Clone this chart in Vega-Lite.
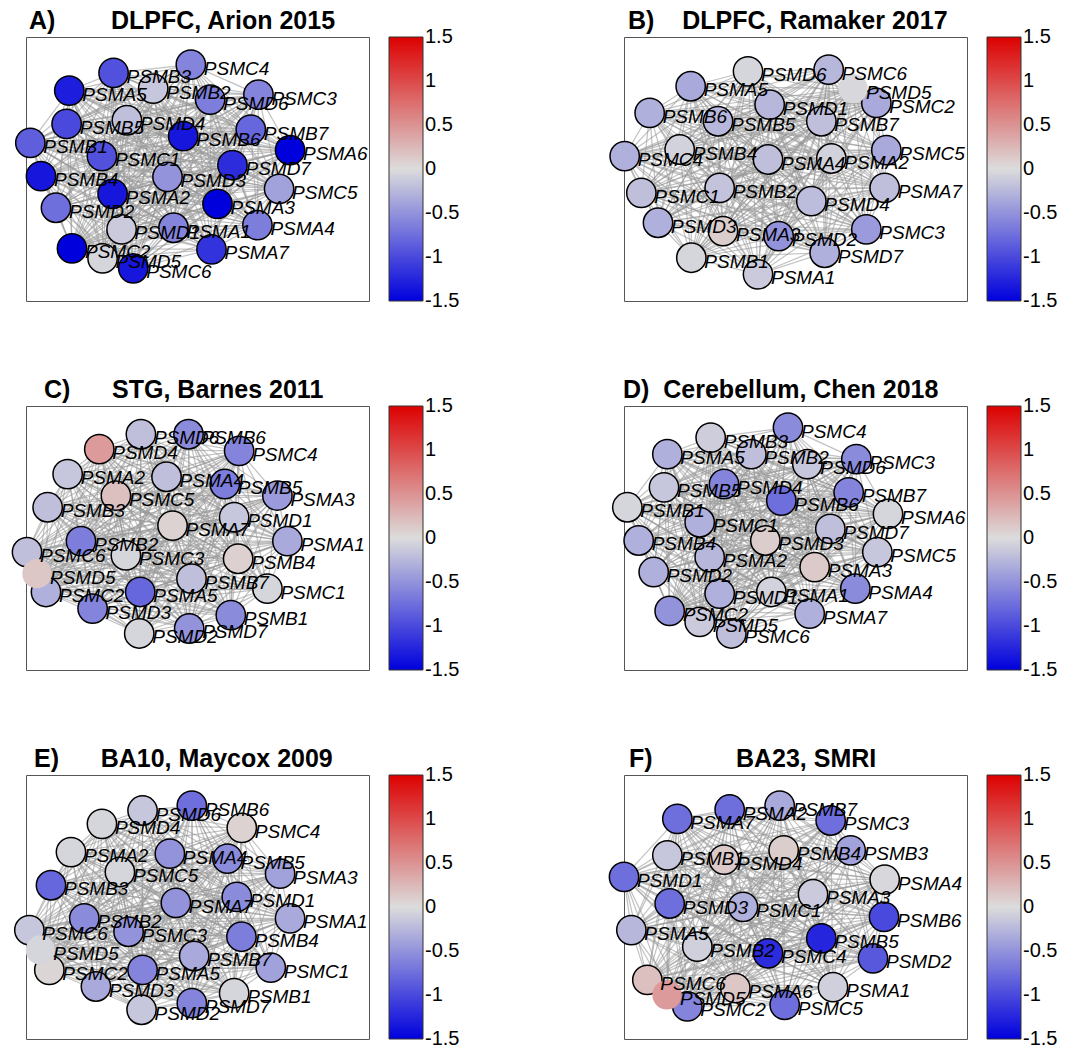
{
"$schema": "https://vega.github.io/schema/vega-lite/v6.json",
"background": "white",
"padding": {"left": 8, "top": 8, "right": 5, "bottom": 5},
"config": {"view": {"stroke": "#555555", "strokeWidth": 1}, "font": "Liberation Sans",
  "legend": {"offset": 20, "padding": 0, "labelFontSize": 20, "labelOffset": 12, "labelColor": "black", "labelFont": "Liberation Sans", "labelOverlap": false, "gradientStrokeColor": "#333333", "gradientStrokeWidth": 1}},
"datasets": {"nodes": [
{"panel":"A","name":"PSMB3","x":338,"y":215,"v":-0.95},
{"panel":"A","name":"PSMC4","x":570,"y":190,"v":-0.6},
{"panel":"A","name":"PSMA5","x":205,"y":268,"v":-1.3},
{"panel":"A","name":"PSMB2","x":457,"y":262,"v":-0.15},
{"panel":"A","name":"PSMD6","x":628,"y":295,"v":-0.65},
{"panel":"A","name":"PSMC3","x":773,"y":280,"v":-0.6},
{"panel":"A","name":"PSMB5","x":197,"y":368,"v":-1.0},
{"panel":"A","name":"PSMD4","x":378,"y":357,"v":-0.2},
{"panel":"A","name":"PSMB6","x":547,"y":405,"v":-1.35},
{"panel":"A","name":"PSMB7","x":750,"y":385,"v":-0.8},
{"panel":"A","name":"PSMB1","x":88,"y":425,"v":-0.85},
{"panel":"A","name":"PSMA6","x":868,"y":447,"v":-1.5},
{"panel":"A","name":"PSMC1","x":303,"y":465,"v":-0.95},
{"panel":"A","name":"PSMD7","x":695,"y":492,"v":-1.2},
{"panel":"A","name":"PSMB4","x":120,"y":525,"v":-1.35},
{"panel":"A","name":"PSMD3","x":500,"y":527,"v":-0.5},
{"panel":"A","name":"PSMC5","x":835,"y":563,"v":-0.4},
{"panel":"A","name":"PSMA2","x":335,"y":578,"v":-1.35},
{"panel":"A","name":"PSMA3","x":650,"y":608,"v":-1.5},
{"panel":"A","name":"PSMD2","x":165,"y":620,"v":-0.75},
{"panel":"A","name":"PSMA4","x":770,"y":672,"v":-0.65},
{"panel":"A","name":"PSMD1","x":362,"y":685,"v":-0.12},
{"panel":"A","name":"PSMA1","x":518,"y":680,"v":-0.6},
{"panel":"A","name":"PSMC2","x":213,"y":742,"v":-1.5},
{"panel":"A","name":"PSMA7","x":632,"y":745,"v":-1.15},
{"panel":"A","name":"PSMD5","x":305,"y":772,"v":-0.05},
{"panel":"A","name":"PSMC6","x":397,"y":802,"v":-1.35},
{"panel":"B","name":"PSMD6","x":440,"y":210,"v":-0.05},
{"panel":"B","name":"PSMC6","x":682,"y":205,"v":-0.25},
{"panel":"B","name":"PSMA5","x":268,"y":255,"v":-0.35},
{"panel":"B","name":"PSMC2","x":825,"y":305,"v":-0.35},
{"panel":"B","name":"PSMD5","x":755,"y":262,"v":-0.03},
{"panel":"B","name":"PSMD1","x":505,"y":310,"v":-0.25},
{"panel":"B","name":"PSMB6","x":145,"y":335,"v":-0.3},
{"panel":"B","name":"PSMB5","x":350,"y":360,"v":-0.25},
{"panel":"B","name":"PSMB7","x":660,"y":360,"v":-0.2},
{"panel":"B","name":"PSMC4","x":70,"y":465,"v":-0.3},
{"panel":"B","name":"PSMB4","x":235,"y":445,"v":-0.07},
{"panel":"B","name":"PSMA4","x":500,"y":475,"v":-0.2},
{"panel":"B","name":"PSMA2","x":690,"y":472,"v":-0.07},
{"panel":"B","name":"PSMC5","x":855,"y":447,"v":-0.35},
{"panel":"B","name":"PSMC1","x":120,"y":575,"v":-0.2},
{"panel":"B","name":"PSMB2","x":355,"y":560,"v":-0.17},
{"panel":"B","name":"PSMA7","x":850,"y":560,"v":-0.2},
{"panel":"B","name":"PSMD4","x":630,"y":600,"v":-0.22},
{"panel":"B","name":"PSMD3","x":170,"y":665,"v":-0.3},
{"panel":"B","name":"PSMA3","x":365,"y":690,"v":0.1},
{"panel":"B","name":"PSMD2","x":532,"y":705,"v":-0.5},
{"panel":"B","name":"PSMC3","x":795,"y":685,"v":-0.45},
{"panel":"B","name":"PSMD7","x":670,"y":755,"v":-0.3},
{"panel":"B","name":"PSMB1","x":270,"y":770,"v":-0.05},
{"panel":"B","name":"PSMA1","x":470,"y":820,"v":-0.12},
{"panel":"C","name":"PSMD6","x":420,"y":190,"v":-0.2},
{"panel":"C","name":"PSMB6","x":563,"y":190,"v":-0.55},
{"panel":"C","name":"PSMD4","x":295,"y":235,"v":0.45},
{"panel":"C","name":"PSMC4","x":715,"y":240,"v":-0.6},
{"panel":"C","name":"PSMA2","x":200,"y":310,"v":-0.15},
{"panel":"C","name":"PSMA4","x":497,"y":318,"v":-0.2},
{"panel":"C","name":"PSMB5","x":672,"y":340,"v":-0.65},
{"panel":"C","name":"PSMC5","x":345,"y":375,"v":0.2},
{"panel":"C","name":"PSMA3","x":830,"y":375,"v":-0.45},
{"panel":"C","name":"PSMB3","x":140,"y":410,"v":-0.2},
{"panel":"C","name":"PSMA7","x":515,"y":465,"v":0.07},
{"panel":"C","name":"PSMD1","x":700,"y":440,"v":-0.15},
{"panel":"C","name":"PSMA1","x":860,"y":512,"v":-0.35},
{"panel":"C","name":"PSMB2","x":240,"y":512,"v":-0.65},
{"panel":"C","name":"PSMC6","x":78,"y":545,"v":-0.2},
{"panel":"C","name":"PSMC3","x":375,"y":555,"v":-0.05},
{"panel":"C","name":"PSMB4","x":712,"y":565,"v":0.08},
{"panel":"C","name":"PSMB7","x":572,"y":625,"v":-0.2},
{"panel":"C","name":"PSMC1","x":800,"y":655,"v":-0.05},
{"panel":"C","name":"PSMC2","x":135,"y":665,"v":-0.3},
{"panel":"C","name":"PSMA5","x":418,"y":665,"v":-0.8},
{"panel":"C","name":"PSMD3","x":275,"y":715,"v":-0.6},
{"panel":"C","name":"PSMB1","x":690,"y":735,"v":-0.55},
{"panel":"C","name":"PSMD2","x":415,"y":790,"v":-0.05},
{"panel":"C","name":"PSMD7","x":565,"y":775,"v":-0.5},
{"panel":"C","name":"PSMD5","x":108,"y":610,"v":0.15},
{"panel":"D","name":"PSMB3","x":328,"y":200,"v":-0.1},
{"panel":"D","name":"PSMC4","x":560,"y":170,"v":-0.55},
{"panel":"D","name":"PSMA5","x":198,"y":250,"v":-0.3},
{"panel":"D","name":"PSMB2","x":450,"y":250,"v":-0.2},
{"panel":"D","name":"PSMD6","x":618,"y":280,"v":-0.15},
{"panel":"D","name":"PSMC3","x":765,"y":265,"v":-0.55},
{"panel":"D","name":"PSMB5","x":188,"y":350,"v":-0.15},
{"panel":"D","name":"PSMD4","x":368,"y":340,"v":-0.6},
{"panel":"D","name":"PSMB6","x":540,"y":390,"v":-0.75},
{"panel":"D","name":"PSMB7","x":742,"y":365,"v":-0.6},
{"panel":"D","name":"PSMB1","x":78,"y":410,"v":-0.05},
{"panel":"D","name":"PSMA6","x":860,"y":430,"v":-0.05},
{"panel":"D","name":"PSMC1","x":295,"y":455,"v":-0.3},
{"panel":"D","name":"PSMD7","x":687,"y":475,"v":-0.2},
{"panel":"D","name":"PSMB4","x":112,"y":510,"v":-0.3},
{"panel":"D","name":"PSMD3","x":492,"y":510,"v":0.1},
{"panel":"D","name":"PSMC5","x":828,"y":545,"v":-0.15},
{"panel":"D","name":"PSMA2","x":325,"y":560,"v":-0.25},
{"panel":"D","name":"PSMA3","x":640,"y":590,"v":0.12},
{"panel":"D","name":"PSMD2","x":157,"y":605,"v":-0.3},
{"panel":"D","name":"PSMA4","x":762,"y":655,"v":-0.55},
{"panel":"D","name":"PSMD1","x":355,"y":670,"v":-0.3},
{"panel":"D","name":"PSMA1","x":510,"y":665,"v":-0.07},
{"panel":"D","name":"PSMC2","x":205,"y":722,"v":-0.5},
{"panel":"D","name":"PSMA7","x":625,"y":730,"v":-0.3},
{"panel":"D","name":"PSMD5","x":295,"y":755,"v":-0.12},
{"panel":"D","name":"PSMC6","x":390,"y":790,"v":-0.2},
{"panel":"E","name":"PSMD6","x":425,"y":210,"v":-0.15},
{"panel":"E","name":"PSMB6","x":573,"y":195,"v":-0.75},
{"panel":"E","name":"PSMD4","x":303,"y":250,"v":-0.05},
{"panel":"E","name":"PSMC4","x":723,"y":262,"v":0.07},
{"panel":"E","name":"PSMA2","x":210,"y":335,"v":-0.05},
{"panel":"E","name":"PSMA4","x":507,"y":340,"v":-0.5},
{"panel":"E","name":"PSMB5","x":680,"y":355,"v":-0.55},
{"panel":"E","name":"PSMC5","x":357,"y":395,"v":-0.05},
{"panel":"E","name":"PSMA3","x":838,"y":400,"v":-0.4},
{"panel":"E","name":"PSMB3","x":150,"y":435,"v":-0.8},
{"panel":"E","name":"PSMA7","x":525,"y":488,"v":-0.5},
{"panel":"E","name":"PSMD1","x":708,"y":470,"v":-0.55},
{"panel":"E","name":"PSMA1","x":868,"y":535,"v":-0.35},
{"panel":"E","name":"PSMB2","x":250,"y":535,"v":-0.55},
{"panel":"E","name":"PSMC6","x":85,"y":570,"v":-0.15},
{"panel":"E","name":"PSMC3","x":383,"y":575,"v":-0.5},
{"panel":"E","name":"PSMB4","x":722,"y":590,"v":-0.65},
{"panel":"E","name":"PSMB7","x":580,"y":648,"v":-0.35},
{"panel":"E","name":"PSMC1","x":810,"y":683,"v":-0.4},
{"panel":"E","name":"PSMC2","x":145,"y":690,"v":0.05},
{"panel":"E","name":"PSMA5","x":425,"y":690,"v":-0.6},
{"panel":"E","name":"PSMD3","x":285,"y":740,"v":-0.35},
{"panel":"E","name":"PSMB1","x":700,"y":760,"v":-0.05},
{"panel":"E","name":"PSMD2","x":422,"y":810,"v":-0.15},
{"panel":"E","name":"PSMD7","x":573,"y":790,"v":-0.6},
{"panel":"E","name":"PSMD5","x":118,"y":630,"v":-0.05},
{"panel":"F","name":"PSMA7","x":228,"y":235,"v":-0.75},
{"panel":"F","name":"PSMA2","x":385,"y":207,"v":-0.75},
{"panel":"F","name":"PSMB7","x":535,"y":195,"v":-0.35},
{"panel":"F","name":"PSMC3","x":688,"y":240,"v":-0.75},
{"panel":"F","name":"PSMB1","x":198,"y":345,"v":-0.15},
{"panel":"F","name":"PSMD4","x":368,"y":358,"v":0.12},
{"panel":"F","name":"PSMB4","x":547,"y":330,"v":0.1},
{"panel":"F","name":"PSMB3","x":748,"y":330,"v":-0.4},
{"panel":"F","name":"PSMD1","x":68,"y":410,"v":-0.75},
{"panel":"F","name":"PSMA4","x":850,"y":418,"v":-0.03},
{"panel":"F","name":"PSMA3","x":635,"y":462,"v":-0.12},
{"panel":"F","name":"PSMD3","x":205,"y":490,"v":-0.75},
{"panel":"F","name":"PSMC1","x":425,"y":500,"v":-0.3},
{"panel":"F","name":"PSMB6","x":848,"y":530,"v":-1.0},
{"panel":"F","name":"PSMA5","x":90,"y":570,"v":-0.25},
{"panel":"F","name":"PSMB5","x":660,"y":595,"v":-1.25},
{"panel":"F","name":"PSMB2","x":288,"y":620,"v":-0.08},
{"panel":"F","name":"PSMC4","x":500,"y":640,"v":-1.2},
{"panel":"F","name":"PSMD2","x":815,"y":655,"v":-0.9},
{"panel":"F","name":"PSMC6","x":138,"y":720,"v":0.2},
{"panel":"F","name":"PSMA6","x":402,"y":745,"v":0.15},
{"panel":"F","name":"PSMA1","x":695,"y":742,"v":-0.08},
{"panel":"F","name":"PSMC2","x":258,"y":800,"v":-0.6},
{"panel":"F","name":"PSMC5","x":550,"y":795,"v":-0.75},
{"panel":"F","name":"PSMD5","x":197,"y":765,"v":0.45}
]},
"columns": 2,
"spacing": {"row": 105, "column": 255},
"bounds": "flush",
"resolve": {"scale": {"fill": "independent", "x": "independent", "y": "independent"}, "legend": {"fill": "independent"}},
"concat": [
{"width": 343, "height": 264, "data": {"name": "nodes"}, "transform": [{"filter": "datum.panel === 'A'"}],
 "title": {"text": "A)\u00a0\u00a0\u00a0\u00a0\u00a0\u00a0\u00a0\u00a0DLPFC, Arion 2015", "anchor": "start", "frame": "group", "dx": 3, "offset": -17, "baseline": "alphabetic", "fontSize": 25, "fontWeight": "bold", "font": "Liberation Sans", "color": "black"},
 "encoding": {"x": {"field": "x", "type": "quantitative", "scale": {"domain": [75, 1105], "nice": false, "zero": false}, "axis": null},
              "y": {"field": "y", "type": "quantitative", "scale": {"domain": [107, 900], "nice": false, "zero": false, "reverse": true}, "axis": null}},
 "layer": [
  {"transform": [{"joinaggregate": [{"op": "values", "field": "name", "as": "peers"}]}, {"flatten": ["peers"], "as": ["peer"]}, {"filter": "datum.name < datum.peer.name"}],
   "mark": {"type": "rule", "color": "#999999", "strokeWidth": 1.2, "opacity": 0.6},
   "encoding": {"x2": {"field": "peer.x"}, "y2": {"field": "peer.y"}}},
  {"mark": {"type": "point", "shape": "circle", "filled": true, "size": 860, "stroke": "black", "strokeWidth": 1.5, "opacity": 1},
   "encoding": {"fill": {"field": "v", "type": "quantitative", "scale": {"domain": [-1.5002, 0, 1.5002], "range": ["#0000dd", "#dcdcdc", "#dd0000"], "interpolate": "rgb"},
     "legend": {"title": null, "orient": "right", "direction": "vertical", "gradientLength": 264, "gradientThickness": 34, "values": [-1.5, -1, -0.5, 0, 0.5, 1, 1.5], "labelExpr": "'' + datum.value"}}}},
  {"mark": {"type": "text", "align": "left", "baseline": "alphabetic", "dx": 13, "dy": 10, "fontSize": 19, "fontStyle": "italic", "font": "Liberation Sans", "color": "black"},
   "encoding": {"text": {"field": "name"}}}
 ]},
{"width": 343, "height": 264, "data": {"name": "nodes"}, "transform": [{"filter": "datum.panel === 'B'"}],
 "title": {"text": "B)\u00a0\u00a0\u00a0\u00a0DLPFC, Ramaker 2017", "anchor": "start", "frame": "group", "dx": 4, "offset": -17, "baseline": "alphabetic", "fontSize": 25, "fontWeight": "bold", "font": "Liberation Sans", "color": "black"},
 "encoding": {"x": {"field": "x", "type": "quantitative", "scale": {"domain": [68, 1097], "nice": false, "zero": false}, "axis": null},
              "y": {"field": "y", "type": "quantitative", "scale": {"domain": [107, 900], "nice": false, "zero": false, "reverse": true}, "axis": null}},
 "layer": [
  {"transform": [{"joinaggregate": [{"op": "values", "field": "name", "as": "peers"}]}, {"flatten": ["peers"], "as": ["peer"]}, {"filter": "datum.name < datum.peer.name"}],
   "mark": {"type": "rule", "color": "#999999", "strokeWidth": 1.2, "opacity": 0.6},
   "encoding": {"x2": {"field": "peer.x"}, "y2": {"field": "peer.y"}}},
  {"mark": {"type": "point", "shape": "circle", "filled": true, "size": 860, "stroke": "black", "strokeWidth": 1.5, "opacity": 1},
   "encoding": {"fill": {"field": "v", "type": "quantitative", "scale": {"domain": [-1.5002, 0, 1.5002], "range": ["#0000dd", "#dcdcdc", "#dd0000"], "interpolate": "rgb"},
     "legend": {"title": null, "orient": "right", "direction": "vertical", "gradientLength": 264, "gradientThickness": 34, "values": [-1.5, -1, -0.5, 0, 0.5, 1, 1.5], "labelExpr": "'' + datum.value"}},
     "strokeOpacity": {"condition": {"test": "datum.name === 'PSMD5'", "value": 0}, "value": 1}}},
  {"mark": {"type": "text", "align": "left", "baseline": "alphabetic", "dx": 13, "dy": 10, "fontSize": 19, "fontStyle": "italic", "font": "Liberation Sans", "color": "black"},
   "encoding": {"text": {"field": "name"}}}
 ]},
{"width": 343, "height": 264, "data": {"name": "nodes"}, "transform": [{"filter": "datum.panel === 'C'"}],
 "title": {"text": "C)\u00a0\u00a0\u00a0\u00a0\u00a0\u00a0STG, Barnes 2011", "anchor": "start", "frame": "group", "dx": 18, "offset": -17, "baseline": "alphabetic", "fontSize": 25, "fontWeight": "bold", "font": "Liberation Sans", "color": "black"},
 "encoding": {"x": {"field": "x", "type": "quantitative", "scale": {"domain": [75, 1105], "nice": false, "zero": false}, "axis": null},
              "y": {"field": "y", "type": "quantitative", "scale": {"domain": [105, 900], "nice": false, "zero": false, "reverse": true}, "axis": null}},
 "layer": [
  {"transform": [{"joinaggregate": [{"op": "values", "field": "name", "as": "peers"}]}, {"flatten": ["peers"], "as": ["peer"]}, {"filter": "datum.name < datum.peer.name"}],
   "mark": {"type": "rule", "color": "#999999", "strokeWidth": 1.2, "opacity": 0.6},
   "encoding": {"x2": {"field": "peer.x"}, "y2": {"field": "peer.y"}}},
  {"mark": {"type": "point", "shape": "circle", "filled": true, "size": 860, "stroke": "black", "strokeWidth": 1.5, "opacity": 1},
   "encoding": {"fill": {"field": "v", "type": "quantitative", "scale": {"domain": [-1.5002, 0, 1.5002], "range": ["#0000dd", "#dcdcdc", "#dd0000"], "interpolate": "rgb"},
     "legend": {"title": null, "orient": "right", "direction": "vertical", "gradientLength": 264, "gradientThickness": 34, "values": [-1.5, -1, -0.5, 0, 0.5, 1, 1.5], "labelExpr": "'' + datum.value"}},
     "strokeOpacity": {"condition": {"test": "datum.name === 'PSMD5'", "value": 0}, "value": 1}}},
  {"mark": {"type": "text", "align": "left", "baseline": "alphabetic", "dx": 13, "dy": 10, "fontSize": 19, "fontStyle": "italic", "font": "Liberation Sans", "color": "black"},
   "encoding": {"text": {"field": "name"}}}
 ]},
{"width": 343, "height": 264, "data": {"name": "nodes"}, "transform": [{"filter": "datum.panel === 'D'"}],
 "title": {"text": "D)\u00a0\u00a0Cerebellum, Chen 2018", "anchor": "start", "frame": "group", "dx": -1, "offset": -17, "baseline": "alphabetic", "fontSize": 25, "fontWeight": "bold", "font": "Liberation Sans", "color": "black"},
 "encoding": {"x": {"field": "x", "type": "quantitative", "scale": {"domain": [68, 1097], "nice": false, "zero": false}, "axis": null},
              "y": {"field": "y", "type": "quantitative", "scale": {"domain": [105, 900], "nice": false, "zero": false, "reverse": true}, "axis": null}},
 "layer": [
  {"transform": [{"joinaggregate": [{"op": "values", "field": "name", "as": "peers"}]}, {"flatten": ["peers"], "as": ["peer"]}, {"filter": "datum.name < datum.peer.name"}],
   "mark": {"type": "rule", "color": "#999999", "strokeWidth": 1.2, "opacity": 0.6},
   "encoding": {"x2": {"field": "peer.x"}, "y2": {"field": "peer.y"}}},
  {"mark": {"type": "point", "shape": "circle", "filled": true, "size": 860, "stroke": "black", "strokeWidth": 1.5, "opacity": 1},
   "encoding": {"fill": {"field": "v", "type": "quantitative", "scale": {"domain": [-1.5002, 0, 1.5002], "range": ["#0000dd", "#dcdcdc", "#dd0000"], "interpolate": "rgb"},
     "legend": {"title": null, "orient": "right", "direction": "vertical", "gradientLength": 264, "gradientThickness": 34, "values": [-1.5, -1, -0.5, 0, 0.5, 1, 1.5], "labelExpr": "'' + datum.value"}}}},
  {"mark": {"type": "text", "align": "left", "baseline": "alphabetic", "dx": 13, "dy": 10, "fontSize": 19, "fontStyle": "italic", "font": "Liberation Sans", "color": "black"},
   "encoding": {"text": {"field": "name"}}}
 ]},
{"width": 343, "height": 264, "data": {"name": "nodes"}, "transform": [{"filter": "datum.panel === 'E'"}],
 "title": {"text": "E)\u00a0\u00a0\u00a0\u00a0\u00a0\u00a0BA10, Maycox 2009", "anchor": "start", "frame": "group", "dx": 8, "offset": -17, "baseline": "alphabetic", "fontSize": 25, "fontWeight": "bold", "font": "Liberation Sans", "color": "black"},
 "encoding": {"x": {"field": "x", "type": "quantitative", "scale": {"domain": [75, 1105], "nice": false, "zero": false}, "axis": null},
              "y": {"field": "y", "type": "quantitative", "scale": {"domain": [103, 898], "nice": false, "zero": false, "reverse": true}, "axis": null}},
 "layer": [
  {"transform": [{"joinaggregate": [{"op": "values", "field": "name", "as": "peers"}]}, {"flatten": ["peers"], "as": ["peer"]}, {"filter": "datum.name < datum.peer.name"}],
   "mark": {"type": "rule", "color": "#999999", "strokeWidth": 1.2, "opacity": 0.6},
   "encoding": {"x2": {"field": "peer.x"}, "y2": {"field": "peer.y"}}},
  {"mark": {"type": "point", "shape": "circle", "filled": true, "size": 860, "stroke": "black", "strokeWidth": 1.5, "opacity": 1},
   "encoding": {"fill": {"field": "v", "type": "quantitative", "scale": {"domain": [-1.5002, 0, 1.5002], "range": ["#0000dd", "#dcdcdc", "#dd0000"], "interpolate": "rgb"},
     "legend": {"title": null, "orient": "right", "direction": "vertical", "gradientLength": 264, "gradientThickness": 34, "values": [-1.5, -1, -0.5, 0, 0.5, 1, 1.5], "labelExpr": "'' + datum.value"}},
     "strokeOpacity": {"condition": {"test": "datum.name === 'PSMD5'", "value": 0}, "value": 1}}},
  {"mark": {"type": "text", "align": "left", "baseline": "alphabetic", "dx": 13, "dy": 10, "fontSize": 19, "fontStyle": "italic", "font": "Liberation Sans", "color": "black"},
   "encoding": {"text": {"field": "name"}}}
 ]},
{"width": 343, "height": 264, "data": {"name": "nodes"}, "transform": [{"filter": "datum.panel === 'F'"}],
 "title": {"text": "F)\u00a0\u00a0\u00a0\u00a0\u00a0\u00a0\u00a0\u00a0\u00a0\u00a0\u00a0\u00a0BA23, SMRI", "anchor": "start", "frame": "group", "dx": 5, "offset": -17, "baseline": "alphabetic", "fontSize": 25, "fontWeight": "bold", "font": "Liberation Sans", "color": "black"},
 "encoding": {"x": {"field": "x", "type": "quantitative", "scale": {"domain": [68, 1097], "nice": false, "zero": false}, "axis": null},
              "y": {"field": "y", "type": "quantitative", "scale": {"domain": [103, 898], "nice": false, "zero": false, "reverse": true}, "axis": null}},
 "layer": [
  {"transform": [{"joinaggregate": [{"op": "values", "field": "name", "as": "peers"}]}, {"flatten": ["peers"], "as": ["peer"]}, {"filter": "datum.name < datum.peer.name"}],
   "mark": {"type": "rule", "color": "#999999", "strokeWidth": 1.2, "opacity": 0.6},
   "encoding": {"x2": {"field": "peer.x"}, "y2": {"field": "peer.y"}}},
  {"mark": {"type": "point", "shape": "circle", "filled": true, "size": 860, "stroke": "black", "strokeWidth": 1.5, "opacity": 1},
   "encoding": {"fill": {"field": "v", "type": "quantitative", "scale": {"domain": [-1.5002, 0, 1.5002], "range": ["#0000dd", "#dcdcdc", "#dd0000"], "interpolate": "rgb"},
     "legend": {"title": null, "orient": "right", "direction": "vertical", "gradientLength": 264, "gradientThickness": 34, "values": [-1.5, -1, -0.5, 0, 0.5, 1, 1.5], "labelExpr": "'' + datum.value"}},
     "strokeOpacity": {"condition": {"test": "datum.name === 'PSMD5'", "value": 0}, "value": 1}}},
  {"mark": {"type": "text", "align": "left", "baseline": "alphabetic", "dx": 13, "dy": 10, "fontSize": 19, "fontStyle": "italic", "font": "Liberation Sans", "color": "black"},
   "encoding": {"text": {"field": "name"}}}
 ]}
]
}
